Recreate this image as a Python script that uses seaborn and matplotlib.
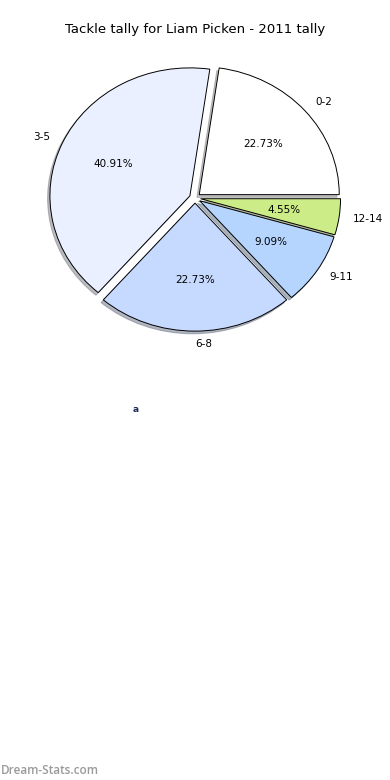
import matplotlib
matplotlib.use('Agg')
import matplotlib.pyplot as plt
import seaborn as sns

# Tally data
ranges = ['0-2', '3-5', '6-8', '9-11', '12-14']
games = [5, 9, 5, 2, 1]
slice_colors = ['#ffffff', '#eaf0ff', '#c6d9ff', '#b5d5ff', '#ccec88']

sns.set_style('white')
plt.rcParams['font.family'] = ['DejaVu Sans']
plt.rcParams['text.color'] = 'black'

fig = plt.figure(figsize=(3.9, 7.8), dpi=100)
ax = fig.add_axes([55 / 390, 454 / 780, 280 / 390, 256 / 780])

wedges, texts, autotexts = ax.pie(
    games,
    labels=ranges,
    colors=slice_colors,
    explode=[0.04] * len(games),
    autopct='%1.2f%%',
    startangle=0,
    shadow={'ox': -0.012, 'oy': -0.015, 'shade': 0.5},
    wedgeprops={'edgecolor': 'black', 'linewidth': 0.7},
    textprops={'fontsize': 7.5, 'color': 'black'},
)
ax.set_aspect('auto')
ax.set_xlim(-1, 1)
ax.set_ylim(-1, 1)
ax.axis('off')

fig.text(0.5, 1 - 30 / 780, 'Tackle tally for Liam Picken - 2011 tally',
         ha='center', va='center', fontsize=9.5, color='black')

# tiny leftover legend glyph under the pie
fig.text(136 / 390, 1 - 410 / 780, 'a', ha='center', va='center',
         fontsize=6.5, color='#1a2a5a', fontweight='bold')

fig.text(0.003, 1 - 770 / 780, 'Dream-Stats.com', ha='left', va='center',
         fontsize=8.5, color='#9a9a9a', family=['Open Sans', 'DejaVu Sans'],
         fontweight='semibold')

fig.savefig('out.png', dpi=100, facecolor='white')
